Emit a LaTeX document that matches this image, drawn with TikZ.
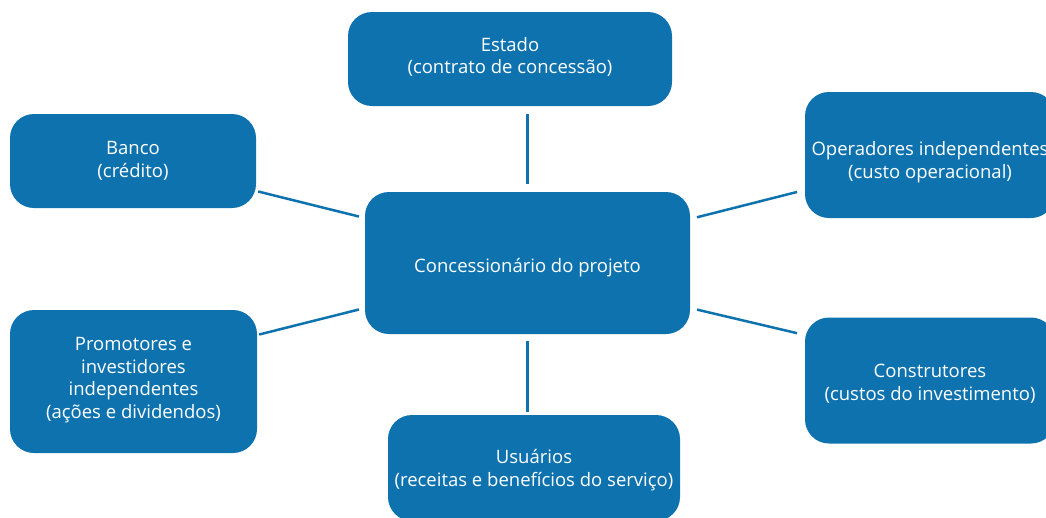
\documentclass[tikz,border=0pt]{standalone}
\usepackage{fontspec}
\setmainfont{Open Sans}
\definecolor{boxblue}{RGB}{14,114,174}
\tikzset{
	party/.style={fill=boxblue, rounded corners=24pt, inner sep=0pt},
	partytext/.style={text=white, align=center, inner sep=0pt,
		font=\fontsize{18.5pt}{22.5pt}\selectfont},
	link/.style={draw=boxblue, line width=2.5pt}
}
\begin{document}
\begin{tikzpicture}[x=1pt,y=-1pt]
	\useasboundingbox (0,0) rectangle (1046,517);
	\clip (0,0) rectangle (1046,517);
	% center
	\node[party, minimum width=325pt, minimum height=142pt,
		label={[partytext, yshift=-5pt]center:Concessionário do projeto}] (conc) at (527.5,263) {};
	% partners
	\node[party, minimum width=324pt, minimum height=94pt,
		label={[partytext, yshift=2pt]center:{Estado\\(contrato de concessão)}}] (estado) at (510,59) {};
	\node[party, minimum width=246pt, minimum height=94pt,
		label={[partytext]center:{Banco\\(crédito)}}] (banco) at (133,161) {};
	\node[party, minimum width=250pt, minimum height=126pt,
		label={[partytext, yshift=-7pt]center:{Operadores independentes\\(custo operacional)}}] (oper) at (930,155) {};
	\node[party, minimum width=247pt, minimum height=143pt,
		label={[partytext, yshift=1.5pt]center:{Promotores e\\investidores\\independentes\\(ações e dividendos)}}] (prom) at (133.5,381.5) {};
	\node[party, minimum width=250pt, minimum height=126pt,
		label={[partytext, yshift=-3.5pt]center:{Construtores\\(custos do investimento)}}] (constr) at (930,380.5) {};
	\node[party, minimum width=292pt, minimum height=106pt,
		label={[partytext, yshift=-2pt]center:{Usuários\\(receitas e benefícios do serviço)}}] (usu) at (534,468) {};
	% links
	\draw[link, shorten <=8pt, shorten >=8pt] (conc.north) -- (conc.north |- estado.south);
	\draw[link, shorten <=7pt, shorten >=3pt] (conc.south) -- (conc.south |- usu.north);
	\draw[link, shorten <=2pt, shorten >=6pt] ([yshift=-30pt]banco.east) -- ([yshift=45pt]conc.west);
	\draw[link, shorten <=2pt, shorten >=6pt] ([yshift=46.5pt]prom.east) -- ([yshift=-45pt]conc.west);
	\draw[link, shorten <=7pt, shorten >=8pt] ([yshift=44pt]conc.east) -- ([yshift=-35pt]oper.west);
	\draw[link, shorten <=7pt, shorten >=8pt] ([yshift=-45pt]conc.east) -- ([yshift=45.5pt]constr.west);
\end{tikzpicture}
\end{document}
